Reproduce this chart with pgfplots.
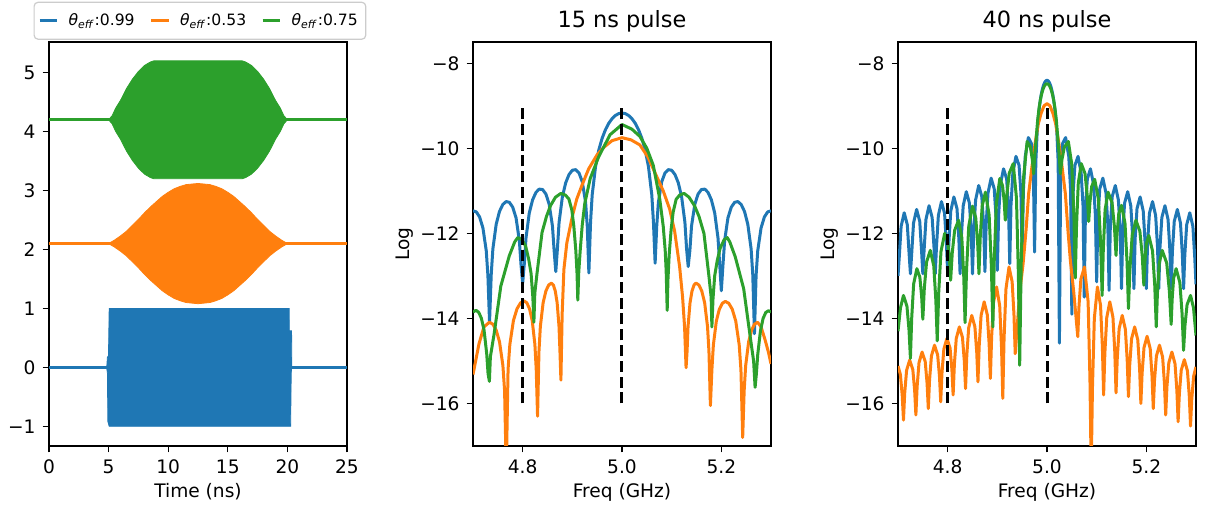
\documentclass[border=0pt]{standalone}
\usepackage{fontspec}
\setmainfont{DejaVu Sans}
\usepackage{pgfplots}
\pgfplotsset{compat=1.18}
\definecolor{c0}{HTML}{1F77B4}
\definecolor{c1}{HTML}{FF7F0E}
\definecolor{c2}{HTML}{2CA02C}
\pgfplotsset{
  myax/.style={scale only axis, width=149pt, height=202pt, anchor=south west,
    xtick pos=lower, ytick pos=left, tick align=outside, major tick length=3.2pt,
    tick style={black, line width=0.6pt}, axis line style={line width=0.6pt},
    tick label style={font=\fontsize{9.3}{10}\selectfont},
    label style={font=\fontsize{9.3}{10}\selectfont},
    every axis title shift=0pt,
    title style={font=\fontsize{11.2}{12}\selectfont, at={(axis description cs:0.5,1.05)}, anchor=center, yshift=0pt},
    xlabel style={at={(axis description cs:0.5,-0.114)}, anchor=center},
  },
  specax/.style={myax, xmin=4.7, xmax=5.3, ymin=-17, ymax=-7.5,
    xtick={4.8,5.0,5.2}, xticklabels={4.8,5.0,5.2},
    ytick={-16,-14,-12,-10,-8}, yticklabels={−16,−14,−12,−10,−8},
    xlabel={Freq (GHz)}, ylabel={Log},
    ylabel style={at={(axis description cs:-0.228,0.5)}, anchor=center}},
  spec/.style={line width=1.5pt, line join=round, mark=none},
  vdash/.style={black, line width=1.5pt, dash pattern=on 5.5pt off 2.4pt},
}
\begin{document}
\begin{tikzpicture}
\path[use as bounding box] (0,0) rectangle (602.5pt,254pt);
% ---------------- left: time traces ----------------
\begin{axis}[myax, at={(24.5pt,31pt)}, xmin=0, xmax=25, ymin=-1.334, ymax=5.52,
  xtick={0,5,10,15,20,25}, xticklabels={0,5,10,15,20,25},
  ytick={-1,0,1,2,3,4,5}, yticklabels={−1,0,1,2,3,4,5},
  xlabel={Time (ns)},
  legend columns=3,
  legend image code/.code={\draw[#1] (0pt,0pt) -- (8.7pt,0pt);},
  legend style={at={(axis description cs:-0.052,1.0998)}, anchor=north west,
    draw=black!20, line width=0.6pt, rounded corners=2pt,
    font=\fontsize{7.8}{9}\selectfont, inner xsep=2pt, inner ysep=3.5pt,
    /tikz/every odd column/.append style={column sep=3pt},
    /tikz/every even column/.append style={column sep=5.5pt}},
  legend cell align=left]
\addlegendimage{c0, line width=1.5pt}
\addlegendentry{\textit{θ}\textsubscript{\textit{eff}}:0.99}
\addlegendimage{c1, line width=1.5pt}
\addlegendentry{\textit{θ}\textsubscript{\textit{eff}}:0.53}
\addlegendimage{c2, line width=1.5pt}
\addlegendentry{\textit{θ}\textsubscript{\textit{eff}}:0.75}
% baselines
\addplot[forget plot, c0, line width=1.5pt] coordinates {(0,0) (25,0)};
\addplot[forget plot, c1, line width=1.5pt] coordinates {(0,2.1) (25,2.1)};
\addplot[forget plot, c2, line width=1.5pt] coordinates {(0,4.2) (25,4.2)};
% blue pulse
\addplot[forget plot, c0, fill=c0, line width=0.4pt] coordinates {
(4.85,0.02) (4.9,0.17) (4.99,0.2) (5.05,1.0) (20.15,1.0) (20.16,0.62) (20.35,0.62) (20.37,0.02)
(20.35,-0.02) (20.32,-0.1) (20.27,-1.0) (5.05,-1.0) (4.94,-0.92) (4.9,-0.1) (4.85,-0.02)} -- cycle;
% orange pulse
\addplot[forget plot, c1, fill=c1, line width=0.4pt] coordinates {
(5,2.1) (5.5,2.16) (6,2.23) (6.5,2.31) (7,2.41) (7.5,2.51) (8,2.62) (8.5,2.72) (9,2.81) (9.5,2.9)
(10,2.97) (10.5,3.03) (11,3.07) (11.5,3.1) (12,3.11) (12.5,3.12) (13,3.11) (13.5,3.1) (14,3.07)
(14.5,3.03) (15,2.97) (15.5,2.9) (16,2.81) (16.5,2.72) (17,2.62) (17.5,2.51) (18,2.41) (18.5,2.31)
(19,2.23) (19.5,2.16) (20,2.1)
(19.5,2.04) (19,1.97) (18.5,1.89) (18,1.79) (17.5,1.69) (17,1.58) (16.5,1.48) (16,1.39) (15.5,1.3)
(15,1.23) (14.5,1.17) (14,1.13) (13.5,1.1) (13,1.09) (12.5,1.08) (12,1.09) (11.5,1.1) (11,1.13)
(10.5,1.17) (10,1.23) (9.5,1.3) (9,1.39) (8.5,1.48) (8,1.58) (7.5,1.69) (7,1.79) (6.5,1.89)
(6,1.97) (5.5,2.04)} -- cycle;
% green pulse
\addplot[forget plot, c2, fill=c2, line width=0.4pt] coordinates {
(5,4.2) (5.3,4.27) (5.6,4.4) (6,4.53) (6.5,4.73) (7,4.89) (7.5,5.02) (8,5.12) (8.5,5.18) (8.8,5.2)
(16.2,5.2) (16.5,5.18) (17,5.12) (17.5,5.02) (18,4.89) (18.5,4.73) (19,4.53) (19.4,4.4) (19.7,4.27) (20,4.2)
(19.7,4.13) (19.4,4.0) (19,3.87) (18.5,3.67) (18,3.51) (17.5,3.38) (17,3.28) (16.5,3.22) (16.2,3.2)
(8.8,3.2) (8.5,3.22) (8,3.28) (7.5,3.38) (7,3.51) (6.5,3.67) (6,3.87) (5.6,4.0) (5.3,4.13)} -- cycle;
\end{axis}
% ---------------- middle: 15 ns ----------------
\begin{axis}[specax, at={(236.5pt,31pt)}, title={15 ns pulse}]
\addplot[spec, c0] coordinates {
(4.7,-11.47) (4.7067,-11.495) (4.7133,-11.615) (4.72,-11.873) (4.7267,-12.41) (4.73,-12.99) (4.7333,-14.09)
(4.7367,-12.968) (4.74,-12.366) (4.7467,-11.786) (4.7533,-11.485) (4.76,-11.321) (4.7667,-11.252) (4.7733,-11.271)
(4.78,-11.385) (4.7867,-11.637) (4.7933,-12.167) (4.7967,-12.744) (4.8,-13.17) (4.8033,-12.715) (4.8067,-12.109)
(4.8133,-11.521) (4.82,-11.211) (4.8267,-11.038) (4.8333,-10.96) (4.84,-10.969) (4.8467,-11.072) (4.8533,-11.311)
(4.86,-11.829) (4.8633,-12.399) (4.8667,-12.9) (4.87,-12.355) (4.8733,-11.742) (4.88,-11.137) (4.8867,-10.809)
(4.8933,-10.617) (4.9,-10.516) (4.9067,-10.501) (4.9133,-10.576) (4.92,-10.785) (4.9267,-11.267) (4.93,-11.818)
(4.9333,-12.93) (4.9367,-11.731) (4.94,-11.093) (4.9467,-10.432) (4.9533,-10.039) (4.96,-9.764) (4.9667,-9.562)
(4.9733,-9.412) (4.98,-9.303) (4.9867,-9.228) (4.9933,-9.184) (5,-9.17)
(5.0067,-9.184) (5.0133,-9.228) (5.02,-9.303) (5.0267,-9.412) (5.0333,-9.562) (5.04,-9.764) (5.0467,-10.039)
(5.0533,-10.432) (5.06,-11.093) (5.0633,-11.731) (5.0667,-12.7) (5.07,-11.818) (5.0733,-11.267) (5.08,-10.785)
(5.0867,-10.576) (5.0933,-10.501) (5.1,-10.516) (5.1067,-10.617) (5.1133,-10.809) (5.12,-11.137) (5.1267,-11.742)
(5.13,-12.355) (5.1333,-12.78) (5.1367,-12.399) (5.14,-11.829) (5.1467,-11.311) (5.1533,-11.072) (5.16,-10.969)
(5.1667,-10.96) (5.1733,-11.038) (5.18,-11.211) (5.1867,-11.521) (5.1933,-12.109) (5.1967,-12.715) (5.2,-13.35)
(5.2033,-12.744) (5.2067,-12.167) (5.2133,-11.637) (5.22,-11.385) (5.2267,-11.271) (5.2333,-11.252) (5.24,-11.321)
(5.2467,-11.485) (5.2533,-11.786) (5.26,-12.366) (5.2633,-12.968) (5.2667,-14.36) (5.27,-12.99) (5.2733,-12.41)
(5.28,-11.873) (5.2867,-11.615) (5.2933,-11.495) (5.3,-11.47)};
\addplot[spec, c1] coordinates {
(4.7,-15.32) (4.712,-14.6) (4.722,-14.2) (4.733,-14.09) (4.7398,-14.134) (4.7466,-14.274) (4.7534,-14.55)
(4.7602,-15.11) (4.7636,-15.7) (4.767,-17.6) (4.7706,-15.2) (4.7742,-14.61) (4.7814,-14.05) (4.7886,-13.774)
(4.7958,-13.634) (4.803,-13.59) (4.8084,-13.634) (4.8138,-13.774) (4.8192,-14.05) (4.8246,-14.61) (4.8273,-15.2)
(4.83,-16.3) (4.8328,-14.78) (4.8356,-14.19) (4.8412,-13.63) (4.8468,-13.354) (4.8524,-13.214) (4.858,-13.17)
(4.8618,-13.214) (4.8656,-13.354) (4.8694,-13.63) (4.8732,-14.19) (4.8751,-14.78) (4.877,-15.45) (4.8795,-13.9)
(4.883,-12.85) (4.889,-12.22) (4.9,-11.6) (4.909,-11.19) (4.92,-10.85) (4.933,-10.48) (4.95,-10.15) (4.963,-9.98)
(4.98,-9.82) (5,-9.75) (5.018,-9.8) (5.036,-9.92) (5.052,-10.2) (5.069,-10.64) (5.083,-11.0) (5.096,-11.43)
(5.106,-11.95) (5.116,-12.78) (5.122,-13.5) (5.126,-14.2) (5.129,-15.16) (5.131,-14.78) (5.133,-14.19)
(5.137,-13.63) (5.141,-13.354) (5.145,-13.214) (5.149,-13.17) (5.1548,-13.214) (5.1606,-13.354) (5.1664,-13.63)
(5.1722,-14.19) (5.1751,-14.78) (5.178,-16.05) (5.181,-15.21) (5.184,-14.62) (5.19,-14.06) (5.196,-13.784)
(5.202,-13.644) (5.208,-13.6) (5.215,-13.644) (5.222,-13.784) (5.229,-14.06) (5.236,-14.62) (5.2395,-15.21)
(5.243,-16.8) (5.246,-15.7) (5.249,-15.11) (5.255,-14.55) (5.261,-14.274) (5.267,-14.134) (5.273,-14.09)
(5.28,-14.2) (5.288,-14.5) (5.295,-14.8) (5.3,-15.07)};
\addplot[spec, c2] coordinates {
(4.7,-13.85) (4.706,-13.81) (4.7114,-13.854) (4.7168,-13.994) (4.7222,-14.27) (4.7276,-14.83) (4.7303,-15.3)
(4.733,-15.48) (4.735,-14.9) (4.7426,-14.36) (4.756,-13.24) (4.773,-12.53) (4.784,-12.2) (4.79,-12.1) (4.798,-12.14)
(4.806,-12.3) (4.812,-12.6) (4.817,-12.95) (4.8205,-13.5) (4.8226,-14.09) (4.8245,-13.4) (4.829,-12.93)
(4.839,-11.98) (4.848,-11.6) (4.856,-11.35) (4.866,-11.15) (4.877,-11.06) (4.886,-11.1) (4.893,-11.19)
(4.899,-11.45) (4.903,-11.83) (4.907,-12.4) (4.9095,-12.95) (4.911,-13.57) (4.913,-12.9) (4.916,-12.38)
(4.92,-11.8) (4.925,-11.3) (4.936,-10.71) (4.953,-10.2) (4.976,-9.68) (5,-9.44) (5.02,-9.55) (5.036,-9.72)
(5.05,-10.0) (5.063,-10.4) (5.076,-11.19) (5.083,-11.83) (5.087,-12.4) (5.089,-12.9) (5.091,-13.81)
(5.0925,-13.1) (5.095,-12.5) (5.099,-11.9) (5.103,-11.5) (5.109,-11.2) (5.116,-11.1) (5.125,-11.06)
(5.135,-11.15) (5.146,-11.35) (5.155,-11.6) (5.165,-12.0) (5.175,-13.0) (5.1795,-13.5) (5.181,-14.2)
(5.1832,-13.55) (5.1866,-13.0) (5.1916,-12.65) (5.1976,-12.35) (5.2056,-12.15) (5.212,-12.1) (5.217,-12.2)
(5.228,-12.55) (5.245,-13.3) (5.2584,-14.45) (5.265,-15.0) (5.268,-15.62) (5.2706,-15.3) (5.2733,-14.85)
(5.2787,-14.3) (5.2841,-14.0) (5.2895,-13.86) (5.295,-13.82) (5.3,-13.85)};
\addplot[vdash] coordinates {(4.8,-16) (4.8,-9)};
\addplot[vdash] coordinates {(5.0,-16) (5.0,-9)};
\end{axis}
% ---------------- right: 40 ns ----------------
\begin{axis}[specax, at={(449pt,31pt)}, title={40 ns pulse}]
\addplot[spec, c0] coordinates {
(4.7,-13.0) (4.7025,-12.565) (4.70625,-11.835) (4.7125,-11.516) (4.71875,-11.798) (4.7225,-12.505) (4.725,-12.95)
(4.7275,-12.489) (4.73125,-11.758) (4.7375,-11.437) (4.74375,-11.717) (4.7475,-12.423) (4.75,-12.95)
(4.7525,-12.406) (4.75625,-11.673) (4.7625,-11.35) (4.76875,-11.628) (4.7725,-12.332) (4.775,-12.95)
(4.7775,-12.313) (4.78125,-11.579) (4.7875,-11.253) (4.79375,-11.528) (4.7975,-12.231) (4.8,-12.95)
(4.8025,-12.21) (4.80625,-11.474) (4.8125,-11.144) (4.81875,-11.416) (4.8225,-12.117) (4.825,-12.95)
(4.8275,-12.092) (4.83125,-11.354) (4.8375,-11.02) (4.84375,-11.287) (4.8475,-11.985) (4.85,-12.95)
(4.8525,-11.956) (4.85625,-11.215) (4.8625,-10.875) (4.86875,-11.136) (4.8725,-11.829) (4.875,-12.9)
(4.8775,-11.795) (4.88125,-11.049) (4.8875,-10.701) (4.89375,-10.952) (4.8975,-11.64) (4.9,-12.87)
(4.9025,-11.596) (4.90625,-10.843) (4.9125,-10.482) (4.91875,-10.719) (4.9225,-11.397) (4.925,-12.71)
(4.9275,-11.339) (4.93125,-10.574) (4.9375,-10.19) (4.94375,-10.4) (4.9475,-11.059) (4.95,-12.6)
(4.9525,-10.972) (4.95625,-10.181) (4.9625,-9.747) (4.96875,-9.889) (4.9725,-10.497) (4.975,-12.44)
(4.9775,-10.323) (4.98,-9.662) (4.9825,-9.269) (4.985,-8.994) (4.9875,-8.792) (4.99,-8.642) (4.9925,-8.533)
(4.995,-8.458) (4.9975,-8.414) (5,-8.4)
(5.0025,-8.414) (5.005,-8.458) (5.0075,-8.533) (5.01,-8.642) (5.0125,-8.792) (5.015,-8.994) (5.0175,-9.269)
(5.02,-9.662) (5.0225,-10.323) (5.025,-14.58)
(5.0275,-10.497) (5.03125,-9.889) (5.0375,-9.747) (5.04375,-10.181) (5.0475,-10.972) (5.05,-13.9)
(5.0525,-11.059) (5.05625,-10.4) (5.0625,-10.19) (5.06875,-10.574) (5.0725,-11.339) (5.075,-13.5)
(5.0775,-11.397) (5.08125,-10.719) (5.0875,-10.482) (5.09375,-10.843) (5.0975,-11.596) (5.1,-13.14)
(5.1025,-11.64) (5.10625,-10.952) (5.1125,-10.701) (5.11875,-11.049) (5.1225,-11.795) (5.125,-13.34)
(5.1275,-11.829) (5.13125,-11.136) (5.1375,-10.875) (5.14375,-11.215) (5.1475,-11.956) (5.15,-13.3)
(5.1525,-11.985) (5.15625,-11.287) (5.1625,-11.02) (5.16875,-11.354) (5.1725,-12.092) (5.175,-13.3)
(5.1775,-12.117) (5.18125,-11.416) (5.1875,-11.144) (5.19375,-11.474) (5.1975,-12.21) (5.2,-13.3)
(5.2025,-12.231) (5.20625,-11.528) (5.2125,-11.253) (5.21875,-11.579) (5.2225,-12.313) (5.225,-13.3)
(5.2275,-12.332) (5.23125,-11.628) (5.2375,-11.35) (5.24375,-11.673) (5.2475,-12.406) (5.25,-13.3)
(5.2525,-12.423) (5.25625,-11.717) (5.2625,-11.437) (5.26875,-11.758) (5.2725,-12.489) (5.275,-13.3)
(5.2775,-12.505) (5.28125,-11.798) (5.2875,-11.516) (5.29375,-11.835) (5.2975,-12.565) (5.3,-13.2)};
\addplot[spec, c1] coordinates {
(4.7,-15.12) (4.7048,-15.32) (4.7085,-15.81) (4.711,-16.39)
(4.7135,-15.755) (4.7173,-15.22) (4.7235,-14.98) (4.7298,-15.2) (4.7335,-15.69) (4.736,-16.27)
(4.7385,-15.604) (4.7423,-15.042) (4.7485,-14.79) (4.7548,-15.016) (4.7585,-15.52) (4.761,-16.12)
(4.7635,-15.45) (4.7673,-14.883) (4.7735,-14.63) (4.7798,-14.856) (4.7835,-15.36) (4.786,-15.96)
(4.7885,-15.29) (4.7923,-14.723) (4.7985,-14.47) (4.8048,-14.696) (4.8085,-15.2) (4.811,-15.8)
(4.8135,-15.08) (4.8173,-14.472) (4.8235,-14.2) (4.8298,-14.446) (4.8335,-15.0) (4.836,-15.65)
(4.8385,-14.876) (4.8423,-14.222) (4.8485,-13.93) (4.8548,-14.195) (4.8585,-14.79) (4.861,-15.49)
(4.8635,-14.644) (4.8673,-13.93) (4.8735,-13.61) (4.8798,-13.916) (4.8835,-14.6) (4.886,-15.41)
(4.8885,-14.44) (4.8923,-13.625) (4.8985,-13.26) (4.9048,-13.705) (4.9085,-14.7) (4.911,-15.88)
(4.9135,-14.49) (4.9173,-13.315) (4.9235,-12.79) (4.9298,-13.137) (4.9335,-13.912) (4.936,-14.83)
(4.945,-13.4) (4.952,-12.7) (4.958,-11.9) (4.963,-11.07) (4.97,-10.4) (4.976,-9.89) (4.982,-9.45) (4.988,-9.18)
(4.994,-9.0) (5,-8.95) (5.006,-9.0) (5.012,-9.18) (5.018,-9.45) (5.024,-9.89) (5.03,-10.4) (5.037,-11.07)
(5.042,-11.9) (5.047,-12.63) (5.054,-13.4) (5.062,-14.43)
(5.0645,-13.692) (5.0683,-13.069) (5.0755,-12.79) (5.0828,-13.608) (5.0865,-15.436) (5.089,-17.6)
(5.0915,-15.647) (5.0953,-14.0) (5.1015,-13.26) (5.1078,-13.692) (5.1115,-14.657) (5.114,-15.8)
(5.1165,-14.815) (5.1203,-13.982) (5.1265,-13.61) (5.1328,-13.974) (5.1365,-14.787) (5.139,-15.75)
(5.1415,-14.931) (5.1453,-14.239) (5.1515,-13.93) (5.1578,-14.255) (5.1615,-14.98) (5.164,-15.84)
(5.1665,-15.102) (5.1703,-14.479) (5.1765,-14.2) (5.1828,-14.506) (5.1865,-15.19) (5.189,-16.0)
(5.1915,-15.289) (5.1953,-14.689) (5.2015,-14.42) (5.2078,-14.709) (5.2115,-15.355) (5.214,-16.12)
(5.2165,-15.45) (5.2203,-14.883) (5.2265,-14.63) (5.2328,-14.909) (5.2365,-15.532) (5.239,-16.27)
(5.2415,-15.604) (5.2453,-15.042) (5.2515,-14.79) (5.2578,-15.069) (5.2615,-15.692) (5.264,-16.43)
(5.2665,-15.773) (5.2703,-15.218) (5.2765,-14.97) (5.2828,-15.235) (5.2865,-15.828) (5.289,-16.53)
(5.2915,-15.895) (5.2953,-15.36) (5.3,-15.14)};
\addplot[spec, c2] coordinates {
(4.7,-14.3) (4.705,-13.75) (4.711,-13.46) (4.718,-13.712) (4.7222,-14.274) (4.725,-14.94) (4.7276,-13.99)
(4.7315,-13.189) (4.738,-12.83) (4.744,-13.032) (4.7476,-13.484) (4.75,-14.02) (4.753,-13.291) (4.7575,-12.675)
(4.765,-12.4) (4.772,-12.762) (4.7762,-13.571) (4.779,-14.53) (4.782,-13.391) (4.7865,-12.43) (4.794,-12.0)
(4.8,-12.187) (4.8036,-12.605) (4.806,-13.1) (4.8092,-12.465) (4.814,-11.93) (4.822,-11.69) (4.8285,-12.1)
(4.8324,-13.015) (4.835,-14.1) (4.838,-12.867) (4.8425,-11.826) (4.85,-11.36) (4.8565,-11.63) (4.8604,-12.234)
(4.863,-12.95) (4.8656,-12.086) (4.8695,-11.356) (4.876,-11.03) (4.8835,-11.569) (4.888,-12.773) (4.891,-14.2)
(4.8938,-12.629) (4.898,-11.303) (4.905,-10.71) (4.9105,-10.877) (4.9138,-11.249) (4.916,-11.69) (4.9192,-11.091)
(4.924,-10.586) (4.932,-10.36) (4.9385,-11.166) (4.9424,-12.967) (4.945,-15.1) (4.948,-12.733) (4.9525,-10.734)
(4.96,-9.84) (4.9665,-9.969) (4.9704,-10.258) (4.973,-10.6) (4.9757,-10.1) (4.9784,-9.742) (4.9811,-9.349)
(4.9838,-9.074) (4.9865,-8.872) (4.9892,-8.722) (4.9919,-8.613) (4.9946,-8.538) (4.9973,-8.494) (5,-8.48)
(5.0027,-8.494) (5.0054,-8.538) (5.0081,-8.613) (5.0108,-8.722) (5.0135,-8.872) (5.0162,-9.074) (5.0189,-9.349)
(5.0216,-9.742) (5.0243,-10.1) (5.027,-10.6) (5.0302,-10.258) (5.035,-9.969) (5.043,-9.84) (5.05,-10.386)
(5.0542,-11.605) (5.057,-13.05) (5.0594,-11.839) (5.063,-10.817) (5.069,-10.36) (5.0765,-10.591) (5.081,-11.108)
(5.084,-11.72) (5.0864,-11.274) (5.09,-10.898) (5.096,-10.73) (5.1035,-11.194) (5.108,-12.231) (5.111,-13.46)
(5.1134,-12.366) (5.117,-11.443) (5.123,-11.03) (5.131,-11.283) (5.1358,-11.849) (5.139,-12.52) (5.1412,-11.989)
(5.1445,-11.541) (5.15,-11.34) (5.157,-11.753) (5.1612,-12.676) (5.164,-13.77) (5.167,-12.834) (5.1715,-12.044)
(5.179,-11.69) (5.187,-11.95) (5.1918,-12.531) (5.195,-13.22) (5.197,-12.693) (5.2,-12.249) (5.205,-12.05)
(5.2125,-12.415) (5.217,-13.232) (5.22,-14.2) (5.2224,-13.39) (5.226,-12.706) (5.232,-12.4) (5.241,-12.696)
(5.2464,-13.357) (5.25,-14.14) (5.252,-13.55) (5.255,-13.053) (5.26,-12.83) (5.2675,-13.156) (5.272,-13.886)
(5.275,-14.75) (5.2778,-14.169) (5.282,-13.679) (5.289,-13.46) (5.295,-13.75) (5.3,-14.4)};
\addplot[vdash] coordinates {(4.8,-16) (4.8,-9)};
\addplot[vdash] coordinates {(5.0,-16) (5.0,-9)};
\end{axis}
\end{tikzpicture}
\end{document}
